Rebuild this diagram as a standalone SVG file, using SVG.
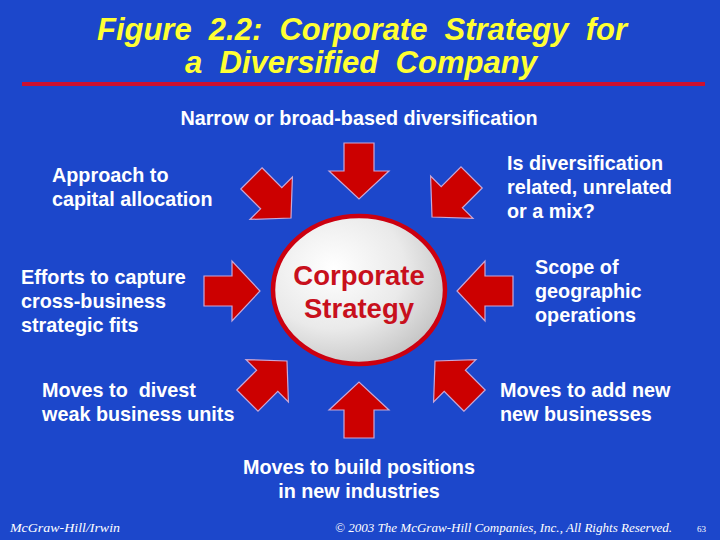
<svg xmlns="http://www.w3.org/2000/svg" width="720" height="540" viewBox="0 0 720 540">
<defs>
<style>
.t{font-family:"Liberation Sans",Arial,sans-serif;font-weight:bold;font-size:19.8px;fill:#ffffff}
.title{font-family:"Liberation Sans",Arial,sans-serif;font-weight:bold;font-style:italic;font-size:32px;fill:#ffff33}
.foot{font-family:"Liberation Serif","Times New Roman",serif;font-style:italic;font-size:13px;fill:#ffffff}
.arr{fill:#cc0000;stroke:#c8a8d8;stroke-width:1.2;stroke-linejoin:miter}
.core{font-family:"Liberation Sans",Arial,sans-serif;font-weight:bold;font-size:27.5px;fill:#c8101c;text-anchor:middle}
</style>
<path id="arrow" d="M-56,-15 L-28,-15 L-28,-30 L0,0 L-28,30 L-28,15 L-56,15 Z"/>
<radialGradient id="cg" cx="0.35" cy="0.35" r="0.75">
<stop offset="0" stop-color="#ffffff"/>
<stop offset="0.55" stop-color="#eaeaea"/>
<stop offset="1" stop-color="#c0c0c0"/>
</radialGradient>
</defs>
<rect x="0" y="0" width="720" height="540" fill="#1c47cb"/>
<g id="title">
<text class="title" x="97" y="40" textLength="530" lengthAdjust="spacingAndGlyphs" xml:space="preserve">Figure  2.2:  Corporate  Strategy  for</text>
<text class="title" x="185" y="73" textLength="352" lengthAdjust="spacingAndGlyphs" xml:space="preserve">a  Diversified  Company</text>
<rect x="22" y="82" width="683" height="4" fill="#cc1030"/>
</g>
<g id="connectors">
<use href="#arrow" class="arr" transform="translate(359,199) rotate(90)"/>
<use href="#arrow" class="arr" transform="translate(359,382) rotate(-90)"/>
<use href="#arrow" class="arr" transform="translate(260,291)"/>
<use href="#arrow" class="arr" transform="translate(457,291) rotate(180)"/>
<use href="#arrow" class="arr" transform="translate(291,218) rotate(45)"/>
<use href="#arrow" class="arr" transform="translate(432,217) rotate(135)"/>
<use href="#arrow" class="arr" transform="translate(287,361) rotate(-45)"/>
<use href="#arrow" class="arr" transform="translate(435,361) rotate(-135)"/>
</g>
<g id="core">
<ellipse cx="359" cy="290" rx="86" ry="74" fill="url(#cg)" stroke="#cc0010" stroke-width="4.5"/>
<text class="core" x="359" y="285">Corporate</text>
<text class="core" x="359" y="318">Strategy</text>
</g>
<g id="n-narrow"><text class="t" x="359" y="125" text-anchor="middle">Narrow or broad-based diversification</text></g>
<g id="n-capital"><text class="t" x="52" y="182">Approach to</text><text class="t" x="52" y="206">capital allocation</text></g>
<g id="n-related"><text class="t" x="507" y="170">Is diversification</text><text class="t" x="507" y="194">related, unrelated</text><text class="t" x="507" y="218">or a mix?</text></g>
<g id="n-fits"><text class="t" x="21" y="284">Efforts to capture</text><text class="t" x="21" y="308">cross-business</text><text class="t" x="21" y="332">strategic fits</text></g>
<g id="n-scope"><text class="t" x="535" y="274">Scope of</text><text class="t" x="535" y="298">geographic</text><text class="t" x="535" y="322">operations</text></g>
<g id="n-divest"><text class="t" x="42" y="397" xml:space="preserve">Moves to  divest</text><text class="t" x="42" y="421">weak business units</text></g>
<g id="n-add"><text class="t" x="500" y="397">Moves to add new</text><text class="t" x="500" y="421">new businesses</text></g>
<g id="n-build"><text class="t" x="359" y="474" text-anchor="middle">Moves to build positions</text><text class="t" x="359" y="498" text-anchor="middle">in new industries</text></g>
<g id="footer">
<text class="foot" x="10" y="532" textLength="110" lengthAdjust="spacingAndGlyphs">McGraw-Hill/Irwin</text>
<text class="foot" x="335" y="532" textLength="337" lengthAdjust="spacingAndGlyphs">© 2003 The McGraw-Hill Companies, Inc., All Rights Reserved.</text>
<text class="foot" x="697" y="532" style="font-size:9px;font-style:normal">63</text>
</g>
</svg>
